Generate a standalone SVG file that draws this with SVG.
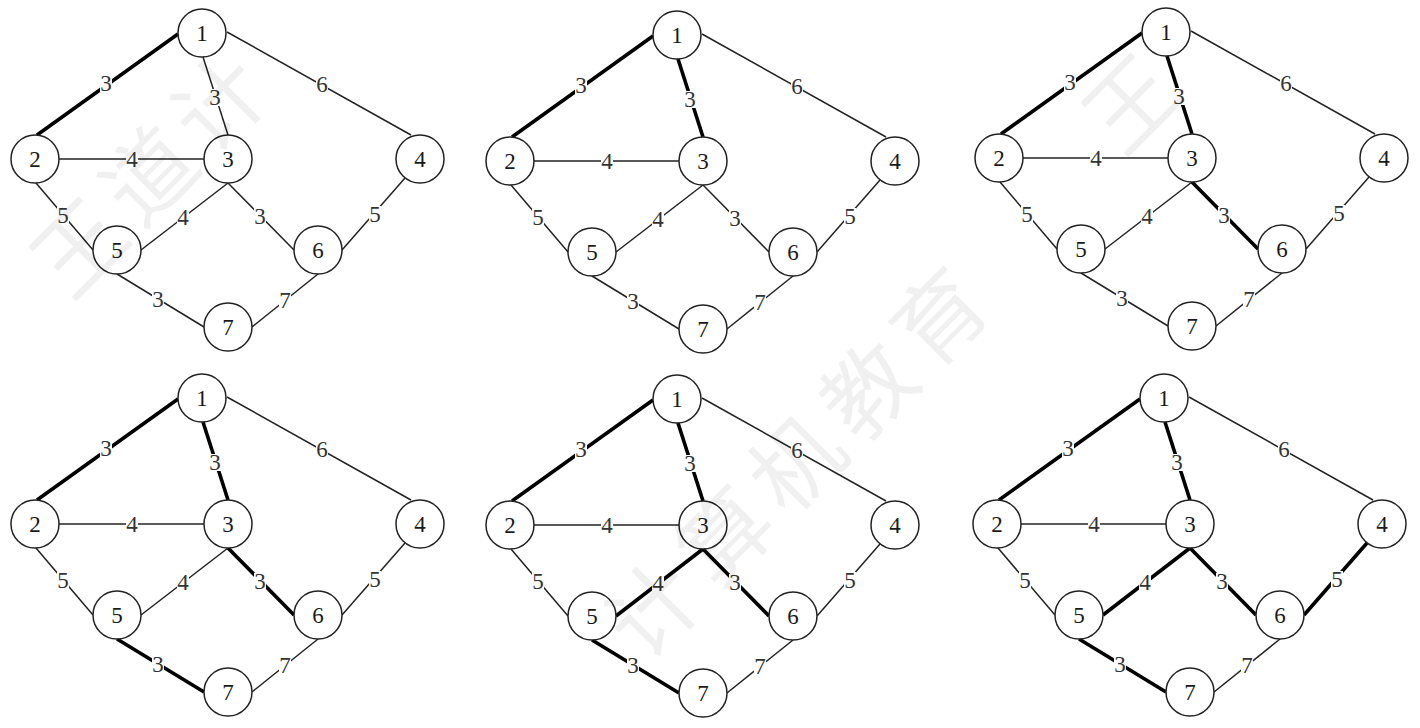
<svg xmlns="http://www.w3.org/2000/svg" width="1420" height="728" viewBox="0 0 1420 728">
<style>
.bg{fill:#fff}
.e{stroke:#222;stroke-width:1.5;fill:none}
.b{stroke:#000;stroke-width:3.6;fill:none}
.halo{fill:#fff}
.lb{font-family:"Liberation Serif","Times New Roman",serif;font-size:23px;fill:#333;text-anchor:middle}
.node circle{fill:#fff;stroke:#222;stroke-width:1.5}
.node text{font-family:"Liberation Serif","Times New Roman",serif;font-size:23px;fill:#1a1a1a;text-anchor:middle}
.wm{font-family:"Noto Sans CJK SC",sans-serif;font-size:90px;fill:#000;fill-opacity:0.06;text-anchor:middle}
</style>
<defs>
<g id="thin">
<line x1="178" y1="34" x2="37" y2="135"/>
<line x1="203" y1="57" x2="228" y2="135"/>
<line x1="227" y1="32" x2="411" y2="135"/>
<line x1="59" y1="159" x2="204" y2="159"/>
<line x1="36" y1="183" x2="93" y2="250"/>
<line x1="228" y1="183" x2="141" y2="250"/>
<line x1="228" y1="183" x2="294" y2="250"/>
<line x1="405" y1="178" x2="342" y2="250"/>
<line x1="117" y1="274" x2="204" y2="327"/>
<line x1="318" y1="274" x2="252" y2="327"/>
</g>
<g id="labels">
<g class="halo">
<rect x="100" y="75" width="12" height="17"/>
<rect x="209" y="89" width="12" height="17"/>
<rect x="316" y="76" width="12" height="17"/>
<rect x="126" y="151" width="12" height="17"/>
<rect x="57" y="207" width="12" height="17"/>
<rect x="177" y="209" width="12" height="17"/>
<rect x="254" y="208" width="12" height="17"/>
<rect x="369" y="206" width="12" height="17"/>
<rect x="152" y="291" width="12" height="17"/>
<rect x="279" y="292" width="12" height="17"/>
</g>
<text class="lb" x="106" y="91">3</text>
<text class="lb" x="215" y="105">3</text>
<text class="lb" x="322" y="92">6</text>
<text class="lb" x="132" y="167">4</text>
<text class="lb" x="63" y="223">5</text>
<text class="lb" x="183" y="225">4</text>
<text class="lb" x="260" y="224">3</text>
<text class="lb" x="375" y="222">5</text>
<text class="lb" x="158" y="307">3</text>
<text class="lb" x="285" y="308">7</text>
</g>
</defs>
<rect class="bg" x="0" y="0" width="1420" height="728"/>

<!-- Graph 1 -->
<g id="graph1" transform="translate(0,0)">
<g id="g1-connectors">
<use href="#thin" class="e"/>
<line class="b" x1="178" y1="34" x2="37" y2="135"/>
<use href="#labels"/>
</g>
<g id="g1-n1" class="node"><circle cx="202" cy="33" r="24"/><text x="202" y="41">1</text></g>
<g id="g1-n2" class="node"><circle cx="35" cy="159" r="24"/><text x="35" y="167">2</text></g>
<g id="g1-n3" class="node"><circle cx="228" cy="159" r="24"/><text x="228" y="167">3</text></g>
<g id="g1-n4" class="node"><circle cx="420" cy="159" r="24"/><text x="420" y="167">4</text></g>
<g id="g1-n5" class="node"><circle cx="117" cy="250" r="24"/><text x="117" y="258">5</text></g>
<g id="g1-n6" class="node"><circle cx="318" cy="250" r="24"/><text x="318" y="258">6</text></g>
<g id="g1-n7" class="node"><circle cx="228" cy="327" r="24"/><text x="228" y="335">7</text></g>
</g>

<!-- Graph 2 -->
<g id="graph2" transform="translate(475,2)">
<g id="g2-connectors">
<use href="#thin" class="e"/>
<line class="b" x1="178" y1="34" x2="37" y2="135"/>
<line class="b" x1="203" y1="57" x2="228" y2="135"/>
<use href="#labels"/>
</g>
<g id="g2-n1" class="node"><circle cx="202" cy="33" r="24"/><text x="202" y="41">1</text></g>
<g id="g2-n2" class="node"><circle cx="35" cy="159" r="24"/><text x="35" y="167">2</text></g>
<g id="g2-n3" class="node"><circle cx="228" cy="159" r="24"/><text x="228" y="167">3</text></g>
<g id="g2-n4" class="node"><circle cx="420" cy="159" r="24"/><text x="420" y="167">4</text></g>
<g id="g2-n5" class="node"><circle cx="117" cy="250" r="24"/><text x="117" y="258">5</text></g>
<g id="g2-n6" class="node"><circle cx="318" cy="250" r="24"/><text x="318" y="258">6</text></g>
<g id="g2-n7" class="node"><circle cx="228" cy="327" r="24"/><text x="228" y="335">7</text></g>
</g>

<!-- Graph 3 -->
<g id="graph3" transform="translate(964,-1)">
<g id="g3-connectors">
<use href="#thin" class="e"/>
<line class="b" x1="178" y1="34" x2="37" y2="135"/>
<line class="b" x1="203" y1="57" x2="228" y2="135"/>
<line class="b" x1="228" y1="183" x2="294" y2="250"/>
<use href="#labels"/>
</g>
<g id="g3-n1" class="node"><circle cx="202" cy="33" r="24"/><text x="202" y="41">1</text></g>
<g id="g3-n2" class="node"><circle cx="35" cy="159" r="24"/><text x="35" y="167">2</text></g>
<g id="g3-n3" class="node"><circle cx="228" cy="159" r="24"/><text x="228" y="167">3</text></g>
<g id="g3-n4" class="node"><circle cx="420" cy="159" r="24"/><text x="420" y="167">4</text></g>
<g id="g3-n5" class="node"><circle cx="117" cy="250" r="24"/><text x="117" y="258">5</text></g>
<g id="g3-n6" class="node"><circle cx="318" cy="250" r="24"/><text x="318" y="258">6</text></g>
<g id="g3-n7" class="node"><circle cx="228" cy="327" r="24"/><text x="228" y="335">7</text></g>
</g>

<!-- Graph 4 -->
<g id="graph4" transform="translate(0,365)">
<g id="g4-connectors">
<use href="#thin" class="e"/>
<line class="b" x1="178" y1="34" x2="37" y2="135"/>
<line class="b" x1="203" y1="57" x2="228" y2="135"/>
<line class="b" x1="228" y1="183" x2="294" y2="250"/>
<line class="b" x1="117" y1="274" x2="204" y2="327"/>
<use href="#labels"/>
</g>
<g id="g4-n1" class="node"><circle cx="202" cy="33" r="24"/><text x="202" y="41">1</text></g>
<g id="g4-n2" class="node"><circle cx="35" cy="159" r="24"/><text x="35" y="167">2</text></g>
<g id="g4-n3" class="node"><circle cx="228" cy="159" r="24"/><text x="228" y="167">3</text></g>
<g id="g4-n4" class="node"><circle cx="420" cy="159" r="24"/><text x="420" y="167">4</text></g>
<g id="g4-n5" class="node"><circle cx="117" cy="250" r="24"/><text x="117" y="258">5</text></g>
<g id="g4-n6" class="node"><circle cx="318" cy="250" r="24"/><text x="318" y="258">6</text></g>
<g id="g4-n7" class="node"><circle cx="228" cy="327" r="24"/><text x="228" y="335">7</text></g>
</g>

<!-- Graph 5 -->
<g id="graph5" transform="translate(475,366)">
<g id="g5-connectors">
<use href="#thin" class="e"/>
<line class="b" x1="178" y1="34" x2="37" y2="135"/>
<line class="b" x1="203" y1="57" x2="228" y2="135"/>
<line class="b" x1="228" y1="183" x2="294" y2="250"/>
<line class="b" x1="117" y1="274" x2="204" y2="327"/>
<line class="b" x1="228" y1="183" x2="141" y2="250"/>
<use href="#labels"/>
</g>
<g id="g5-n1" class="node"><circle cx="202" cy="33" r="24"/><text x="202" y="41">1</text></g>
<g id="g5-n2" class="node"><circle cx="35" cy="159" r="24"/><text x="35" y="167">2</text></g>
<g id="g5-n3" class="node"><circle cx="228" cy="159" r="24"/><text x="228" y="167">3</text></g>
<g id="g5-n4" class="node"><circle cx="420" cy="159" r="24"/><text x="420" y="167">4</text></g>
<g id="g5-n5" class="node"><circle cx="117" cy="250" r="24"/><text x="117" y="258">5</text></g>
<g id="g5-n6" class="node"><circle cx="318" cy="250" r="24"/><text x="318" y="258">6</text></g>
<g id="g5-n7" class="node"><circle cx="228" cy="327" r="24"/><text x="228" y="335">7</text></g>
</g>

<!-- Graph 6 -->
<g id="graph6" transform="translate(962,365)">
<g id="g6-connectors">
<use href="#thin" class="e"/>
<line class="b" x1="178" y1="34" x2="37" y2="135"/>
<line class="b" x1="203" y1="57" x2="228" y2="135"/>
<line class="b" x1="228" y1="183" x2="294" y2="250"/>
<line class="b" x1="117" y1="274" x2="204" y2="327"/>
<line class="b" x1="228" y1="183" x2="141" y2="250"/>
<line class="b" x1="405" y1="178" x2="342" y2="250"/>
<use href="#labels"/>
</g>
<g id="g6-n1" class="node"><circle cx="202" cy="33" r="24"/><text x="202" y="41">1</text></g>
<g id="g6-n2" class="node"><circle cx="35" cy="159" r="24"/><text x="35" y="167">2</text></g>
<g id="g6-n3" class="node"><circle cx="228" cy="159" r="24"/><text x="228" y="167">3</text></g>
<g id="g6-n4" class="node"><circle cx="420" cy="159" r="24"/><text x="420" y="167">4</text></g>
<g id="g6-n5" class="node"><circle cx="117" cy="250" r="24"/><text x="117" y="258">5</text></g>
<g id="g6-n6" class="node"><circle cx="318" cy="250" r="24"/><text x="318" y="258">6</text></g>
<g id="g6-n7" class="node"><circle cx="228" cy="327" r="24"/><text x="228" y="335">7</text></g>
</g>

<!-- watermark -->
<g id="watermark">
<text class="wm" transform="translate(80,248) rotate(-45)" y="32">王</text>
<text class="wm" transform="translate(150,176) rotate(-45)" y="32">道</text>
<text class="wm" transform="translate(220,104) rotate(-45)" y="32">计</text>
<text class="wm" transform="translate(654,610) rotate(-45)" y="32">计</text>
<text class="wm" transform="translate(726,537) rotate(-45)" y="32">算</text>
<text class="wm" transform="translate(797,464) rotate(-45)" y="32">机</text>
<text class="wm" transform="translate(869,391) rotate(-45)" y="32">教</text>
<text class="wm" transform="translate(940,318) rotate(-45)" y="32">育</text>
<text class="wm" transform="translate(1132,104) rotate(-45)" y="32">王</text>
</g>
</svg>
